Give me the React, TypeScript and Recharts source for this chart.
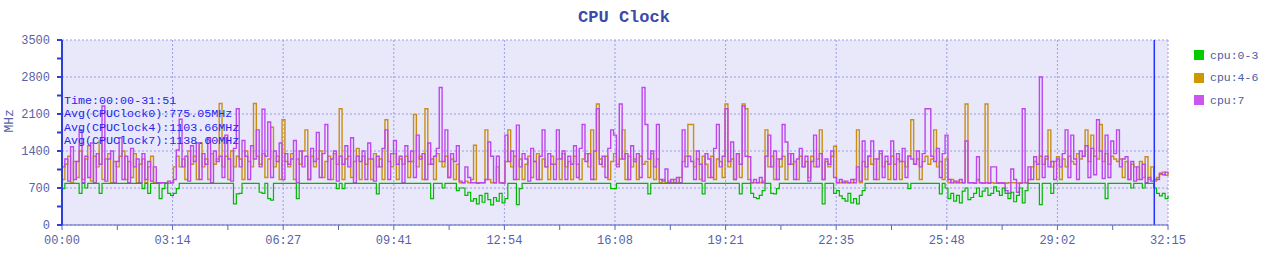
import React from 'react';
import { LineChart, Line, XAxis, YAxis, CartesianGrid, ReferenceLine } from 'recharts';

// CPU clock samples, one every 5 s (MHz)
const SAMPLE_STEP = 5;

const cpu03 = [
  690, 787, 787, 787, 787, 787, 600, 787, 700, 787,
  787, 787, 787, 600, 787, 787, 787, 787, 787, 787,
  787, 787, 787, 787, 787, 787, 787, 787, 690, 787,
  600, 787, 787, 787, 500, 690, 787, 600, 560, 600,
  690, 787, 787, 787, 787, 787, 787, 787, 787, 787,
  787, 787, 787, 787, 787, 787, 787, 787, 787, 787,
  400, 590, 600, 787, 787, 787, 787, 787, 787, 620,
  600, 787, 500, 470, 787, 787, 787, 787, 787, 787,
  787, 787, 500, 787, 787, 787, 787, 787, 787, 787,
  787, 787, 787, 787, 787, 787, 690, 787, 690, 787,
  787, 787, 787, 787, 787, 787, 787, 787, 787, 787,
  590, 787, 787, 787, 787, 787, 787, 787, 787, 787,
  787, 787, 787, 787, 787, 787, 787, 787, 787, 500,
  787, 787, 787, 700, 787, 787, 787, 787, 650, 700,
  700, 560, 620, 450, 500, 400, 560, 430, 600, 480,
  380, 520, 450, 600, 420, 500, 787, 787, 787, 385,
  690, 787, 787, 787, 787, 787, 787, 787, 787, 787,
  787, 787, 787, 787, 787, 787, 787, 787, 787, 787,
  787, 787, 787, 787, 787, 787, 787, 787, 787, 787,
  787, 787, 690, 690, 787, 787, 787, 787, 787, 787,
  787, 787, 787, 787, 787, 590, 787, 787, 787, 787,
  787, 787, 787, 787, 787, 787, 787, 787, 787, 787,
  787, 787, 787, 787, 590, 787, 787, 787, 787, 787,
  787, 787, 787, 787, 787, 787, 787, 590, 787, 787,
  787, 600, 520, 500, 560, 650, 787, 787, 600, 590,
  690, 787, 787, 787, 787, 787, 787, 787, 787, 787,
  787, 787, 787, 787, 787, 787, 400, 787, 787, 787,
  600, 650, 550, 500, 450, 600, 420, 500, 400, 560,
  650, 787, 787, 787, 787, 787, 787, 787, 787, 787,
  787, 787, 787, 787, 787, 787, 690, 787, 787, 787,
  787, 787, 787, 787, 787, 787, 787, 590, 787, 700,
  500, 600, 450, 560, 420, 640, 700, 480, 520, 600,
  700, 540, 640, 700, 560, 600, 720, 640, 560, 700,
  600, 500, 620, 440, 560, 700, 420, 650, 787, 787,
  787, 787, 385, 787, 787, 787, 600, 787, 787, 787,
  787, 787, 787, 787, 787, 787, 787, 787, 787, 787,
  787, 787, 787, 787, 787, 500, 787, 787, 787, 787,
  787, 787, 787, 787, 700, 787, 787, 787, 700, 787,
  787, 787, 700, 600, 550, 600, 500, 560,
];

const cpu46 = [
  860, 1150, 1300, 800, 1200, 900, 1400, 860, 1250, 1500,
  830, 1300, 1100, 1600, 860, 1250, 1350, 800, 1200, 1100,
  1300, 1400, 860, 1200, 900, 1350, 800, 1150, 1250, 800,
  1100, 1300, 800, 800, 790, 800, 800, 790, 800, 1100,
  1300, 1100, 1250, 860, 1400, 1150, 1300, 860, 1550, 1100,
  1250, 860, 1350, 1150, 1250, 2300, 1100, 1300, 860, 1400,
  1100, 1300, 1250, 860, 1400, 1200, 1100, 2300, 1300, 1150,
  1350, 900, 1250, 1850, 1100, 1300, 860, 1990, 1200, 1100,
  1350, 860, 1250, 1150, 1400, 1800, 860, 1300, 1100, 1250,
  1400, 900, 1200, 1300, 860, 1350, 1150, 2200, 860, 1250,
  1300, 900, 1200, 1450, 860, 1300, 1150, 1250, 860, 1350,
  1100, 1250, 860, 1990, 1200, 1100, 1350, 860, 1250, 1150,
  1300, 900, 1200, 2090, 1100, 1300, 860, 2200, 1150, 1250,
  860, 1350, 1200, 1100, 1300, 900, 1250, 860, 1150, 800,
  800, 830, 800, 860, 1510, 800, 800, 800, 1800, 860,
  800, 800, 1100, 800, 800, 1200, 1800, 1100, 1300, 860,
  1250, 860, 1150, 1300, 900, 1200, 1350, 860, 1250, 1100,
  860, 1300, 1150, 1250, 860, 1350, 1100, 1200, 860, 1300,
  1150, 860, 1250, 1350, 1100, 1800, 860, 2290, 1250, 1100,
  1300, 860, 1200, 1350, 1150, 1250, 1800, 860, 1300, 1100,
  1250, 860, 1300, 1150, 1200, 900, 1350, 860, 1250, 800,
  860, 800, 830, 800, 860, 800, 900, 1200, 1300, 1900,
  1900, 1100, 1250, 860, 1300, 1150, 900, 1300, 860, 1250,
  1200, 900, 2290, 1100, 1250, 860, 1350, 900, 2290, 2200,
  860, 800, 800, 800, 800, 830, 1800, 1100, 1300, 860,
  1250, 1100, 1300, 860, 1350, 1150, 1200, 860, 1300, 1100,
  1200, 900, 1300, 1100, 1250, 1800, 860, 1200, 1100, 1300,
  1490, 800, 800, 830, 800, 800, 800, 860, 1800, 800,
  1200, 860, 1300, 1150, 1250, 860, 1350, 1100, 1200, 860,
  1300, 1150, 1250, 860, 1200, 1100, 1300, 1990, 1150, 1250,
  860, 1200, 1300, 1150, 1250, 1800, 1100, 1200, 860, 1250,
  800, 860, 800, 830, 800, 800, 2290, 800, 800, 790,
  860, 800, 790, 2290, 800, 800, 790, 800, 790, 800,
  790, 800, 800, 800, 790, 800, 800, 800, 860, 1100,
  1200, 860, 1300, 1150, 1250, 1800, 1100, 1200, 1290, 860,
  1250, 1100, 1300, 1200, 1150, 1350, 1250, 1300, 1800, 1200,
  1700, 1300, 1250, 1900, 1200, 1350, 1150, 1300, 1250, 1200,
  1250, 900, 1200, 860, 1150, 1100, 860, 1200, 900, 1290,
  860, 1100, 830, 900, 960, 1000, 940, 980,
];

const cpu7 = [
  1100, 1250, 830, 1480, 860, 1200, 1800, 800, 1300, 900,
  1550, 800, 1350, 1150, 2250, 830, 1250, 1400, 800, 1200,
  1650, 860, 1300, 800, 1450, 1100, 1250, 800, 1350, 860,
  1200, 830, 1100, 800, 800, 800, 790, 830, 800, 860,
  1420, 2000, 1100, 1300, 830, 1500, 1200, 1550, 860, 1350,
  1150, 1650, 800, 1400, 1200, 1300, 900, 1700, 1250, 830,
  1450, 2200, 1100, 1600, 1300, 860, 1500, 1250, 1800, 1100,
  2190, 1300, 1950, 900, 1400, 1200, 1550, 860, 1350, 1150,
  1250, 1600, 800, 1400, 1100, 1300, 860, 1450, 1200, 1750,
  900, 1350, 1900, 860, 1250, 1400, 830, 1300, 1150, 1500,
  1100, 1650, 800, 1300, 1200, 1400, 860, 1550, 1250, 830,
  1300, 1100, 1450, 1800, 860, 1350, 1600, 1150, 1300, 800,
  1500, 1200, 1400, 900, 1700, 1250, 1350, 860, 1550, 1150,
  1300, 1450, 2600, 1200, 1800, 900, 1350, 1200, 1500, 830,
  800, 1100, 900, 800, 800, 790, 800, 800, 860, 1570,
  1300, 800, 1300, 800, 790, 1700, 1200, 1400, 860, 1890,
  1100, 1350, 1250, 830, 1450, 1200, 860, 1300, 1800, 1100,
  1350, 1150, 860, 1800, 1250, 1400, 860, 1300, 1150, 1500,
  900, 1450, 1900, 1200, 1350, 860, 1400, 2200, 1150, 1300,
  900, 1450, 1800, 1700, 1100, 2290, 1250, 1350, 860, 1500,
  1200, 1350, 900, 2600, 1900, 1250, 1400, 1100, 1900, 860,
  830, 1060, 800, 860, 800, 900, 800, 1800, 1100, 1300,
  1200, 860, 1400, 1150, 830, 1350, 1250, 900, 1450, 1900,
  1100, 1300, 2200, 1200, 1570, 860, 1350, 1150, 2250, 1300,
  1290, 800, 860, 800, 900, 800, 1300, 1700, 1100, 1400,
  860, 1250, 1900, 1570, 1150, 1350, 860, 1250, 1450, 1100,
  1300, 830, 1200, 1700, 1100, 1350, 860, 1250, 1150, 1400,
  900, 800, 860, 800, 830, 800, 860, 800, 1100, 830,
  1590, 1100, 1300, 1590, 860, 1250, 1400, 900, 1300, 1150,
  1590, 860, 1350, 1200, 1450, 900, 1300, 1250, 1150, 1400,
  1100, 1350, 2200, 2200, 1300, 1200, 1450, 900, 1350, 1700,
  860, 800, 830, 800, 860, 800, 1590, 800, 800, 790,
  1290, 800, 790, 800, 790, 1100, 1100, 790, 800, 790,
  650, 600, 1060, 860, 620, 790, 2200, 800, 1100, 860,
  1290, 1150, 2800, 900, 1300, 1100, 1200, 860, 1250, 1100,
  1350, 1800, 900, 1700, 1250, 860, 1400, 1300, 1500, 900,
  1450, 950, 1990, 1400, 880, 1700, 900, 1590, 1350, 1800,
  1100, 1250, 1290, 860, 1200, 830, 1100, 860, 1150, 800,
  900, 830, 860, 860, 980, 950, 1000, 970,
];

const xTickLabels = ['00:00', '03:14', '06:27', '09:41', '12:54', '16:08', '19:21', '22:35', '25:48', '29:02', '32:15'];
const xMajorStep = 193.5; // seconds between labelled ticks
const yMajorTicks = [0, 700, 1400, 2100, 2800, 3500];
const summaryLines = ['Time:00:00-31:51', 'Avg(CPUClock0):775.05MHz', 'Avg(CPUClock4):1103.66MHz', 'Avg(CPUClock7):1138.60MHz'];
const markerTime = 1911; // 31:51

const series = [
  { key: 'cpu46', name: 'cpu:4-6', color: '#c98e17', width: 1.4 },
  { key: 'cpu7', name: 'cpu:7', color: '#bf45ef', width: 1.4 },
  { key: 'cpu03', name: 'cpu:0-3', color: '#00b800', width: 1.2 },
];
const legendOrder = [
  { name: 'cpu:0-3', color: '#00cc00' },
  { name: 'cpu:4-6', color: '#cc9900' },
  { name: 'cpu:7', color: '#cc55ee' },
];

const chartData = cpu7.map((v, i) => ({
  t: i * SAMPLE_STEP,
  cpu03: cpu03[i],
  cpu46: cpu46[i],
  cpu7: v,
}));

const xMajor = xTickLabels.map((_, i) => i * xMajorStep);
const xTicks: number[] = [];
xMajor.forEach((v, i) => {
  xTicks.push(v);
  if (i < xMajor.length - 1) xTicks.push(v + xMajorStep / 2);
});
const yTicks: number[] = [];
yMajorTicks.forEach((v, i) => {
  yTicks.push(v);
  if (i < yMajorTicks.length - 1) yTicks.push(v + 350);
});

const FONT = '"Liberation Mono", "DejaVu Sans Mono", monospace';
const AXIS_TEXT = '#5563a8';

export default function App() {
  return (
    <div style={{ position: 'relative', width: 1271, height: 265, background: '#fff', fontFamily: FONT }}>
      <style>{'body{margin:0;}'}</style>
      <div style={{ position: 'absolute', left: 0, width: 1248, top: 8, textAlign: 'center', fontSize: 17, fontWeight: 'bold', color: '#3b4aa8' }}>
        CPU Clock
      </div>
      <LineChart width={1271} height={265} data={chartData} margin={{ top: 40, right: 103, bottom: 10, left: 12 }}>
        <CartesianGrid
          fill="#e8e8fa"
          stroke="#9c9ce6"
          strokeDasharray="2 2"
          horizontalValues={yMajorTicks}
          verticalValues={xMajor}
        />
        <XAxis
          dataKey="t"
          type="number"
          domain={[0, xMajor[xMajor.length - 1]]}
          ticks={xTicks}
          interval={0}
          height={30}
          tickSize={5}
          tickMargin={5}
          stroke="#5a68b8"
          tick={{ fill: AXIS_TEXT, fontSize: 12, fontFamily: FONT }}
          tickFormatter={(v: number) => {
            const k = Math.round(v / xMajorStep * 2);
            return k % 2 === 0 ? xTickLabels[k / 2] : '';
          }}
        />
        <YAxis
          type="number"
          domain={[0, 3500]}
          ticks={yTicks}
          interval={0}
          width={50}
          tickSize={5}
          tickMargin={7}
          stroke="#2c3fd6"
          strokeWidth={2}
          tick={{ fill: AXIS_TEXT, fontSize: 12, fontFamily: FONT }}
          tickFormatter={(v: number) => (v % 700 === 0 ? String(v) : '')}
          label={{ value: 'MHz', angle: -90, position: 'insideLeft', offset: -4, fill: AXIS_TEXT, fontSize: 13, fontFamily: FONT }}
        />
        {series.map((s) => (
          <Line
            key={s.key}
            type="stepAfter"
            dataKey={s.key}
            name={s.name}
            stroke={s.color}
            strokeWidth={s.width}
            dot={false}
            activeDot={false}
            isAnimationActive={false}
          />
        ))}
        <ReferenceLine x={markerTime} stroke="#2233ff" strokeWidth={1.5} />
      </LineChart>
      <div style={{ position: 'absolute', left: 64, top: 95, fontSize: 11.7, lineHeight: '13.4px', color: '#2424f0', whiteSpace: 'pre' }}>
        {summaryLines.map((l) => (
          <div key={l}>{l}</div>
        ))}
      </div>
      <div style={{ position: 'absolute', left: 1194, top: 44 }}>
        {legendOrder.map((s) => (
          <div key={s.name} style={{ display: 'flex', alignItems: 'center', height: 22.5 }}>
            <span style={{ display: 'inline-block', width: 10, height: 10, background: s.color, marginRight: 6 }} />
            <span style={{ fontSize: 11.5, color: '#4d5ba3' }}>{s.name}</span>
          </div>
        ))}
      </div>
    </div>
  );
}
